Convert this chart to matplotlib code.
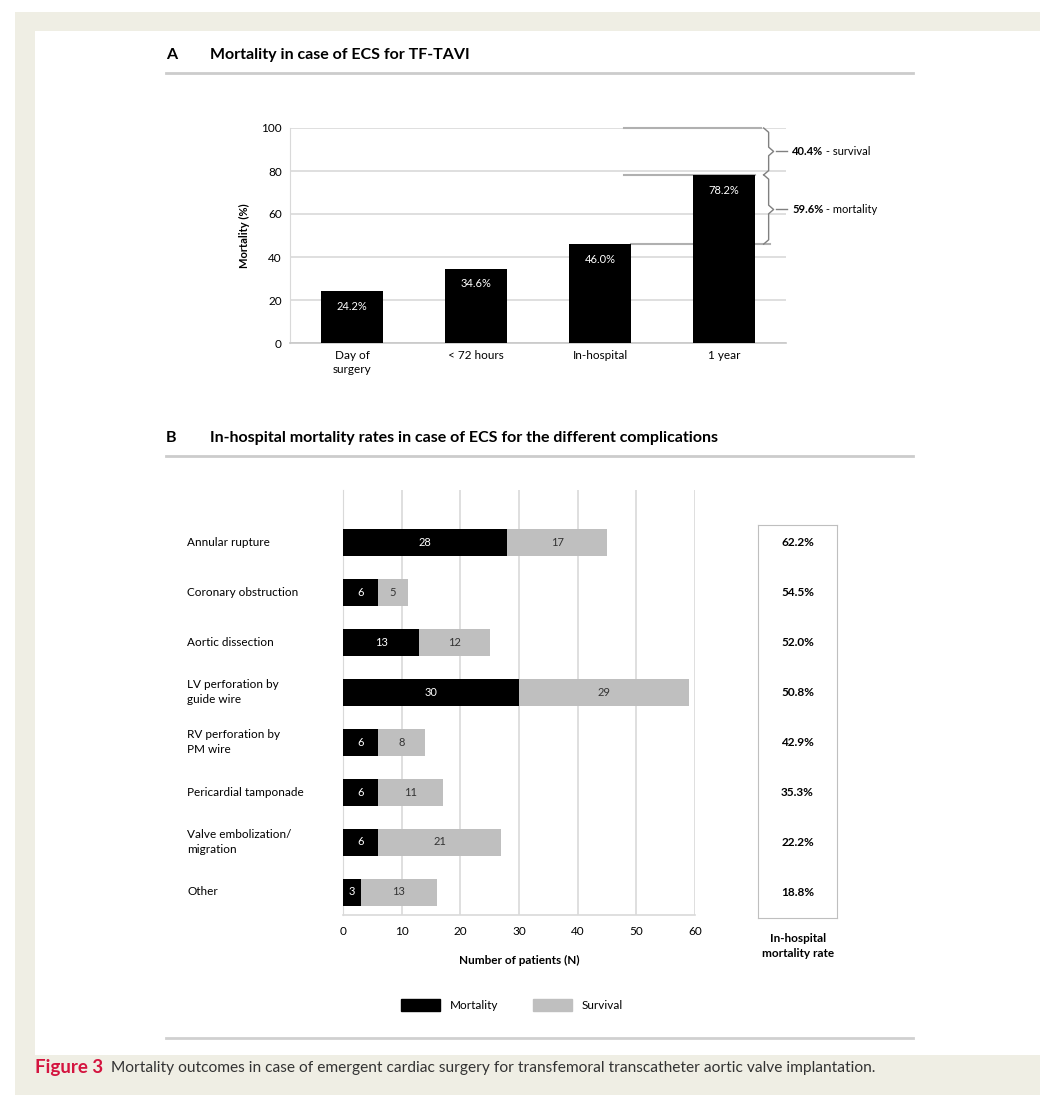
import matplotlib
matplotlib.use("Agg")
import matplotlib.pyplot as plt
from matplotlib.patches import Rectangle, Patch
from matplotlib.lines import Line2D
from matplotlib import transforms

plt.rcParams['font.family'] = ['Lato', 'DejaVu Sans']

# panel A data
periods = ["Day of\nsurgery", "< 72 hours", "In-hospital", "1 year"]
mortality_pct = [24.2, 34.6, 46.0, 78.2]
survival_note = "40.4%"
mortality_note = "59.6%"

# panel B data
complications = ["Annular rupture", "Coronary obstruction", "Aortic dissection",
                 "LV perforation by\nguide wire", "RV perforation by\nPM wire",
                 "Pericardial tamponade", "Valve embolization/\nmigration", "Other"]
deaths = [28, 6, 13, 30, 6, 6, 6, 3]
survivors = [17, 5, 12, 29, 8, 11, 21, 13]
rates = [62.2, 54.5, 52.0, 50.8, 42.9, 35.3, 22.2, 18.8]

W, H = 1040, 1095
BEIGE = '#efeee4'
GRID = '#d9d9d9'


def box(x0, y0, x1, y1):
    return [x0 / W, 1 - y1 / H, (x1 - x0) / W, (y1 - y0) / H]


def fx(x):
    return x / W


def fy(y):
    return 1 - y / H


fig = plt.figure(figsize=(W / 100, H / 100), dpi=100)
fig.patch.set_facecolor('white')
fig.add_artist(Rectangle((fx(15), 0), 1 - fx(15), fy(12), transform=fig.transFigure,
                         facecolor=BEIGE, edgecolor='none', zorder=-10))
fig.add_artist(Rectangle((fx(35), fy(1055)), 1 - fx(35), fy(31) - fy(1055),
                         transform=fig.transFigure, facecolor='white',
                         edgecolor='none', zorder=-9))


def title(y, letter, text):
    fig.text(fx(166), fy(y), letter, fontsize=11.5, fontweight='bold', va='center')
    fig.text(fx(210), fy(y), text, fontsize=11.5, fontweight='bold', va='center')
    fig.add_artist(Line2D([fx(166), fx(913)], [fy(y + 18), fy(y + 18)],
                          transform=fig.transFigure, color='#cccccc', lw=2))


def brace(ax, x, y0, y1, w=0.04, h=2.0):
    m = (y0 + y1) / 2
    xs = [x - w, x, x, x + w, x, x, x - w]
    ys = [y1, y1 - h, m + h, m, m - h, y0 + h, y0]
    ax.plot(xs, ys, color='#808080', lw=1, clip_on=False)
    ax.plot([x + w + 0.02, x + 0.15], [m, m], color='#808080', lw=1, clip_on=False)
    return m


# ---- panel A ----
title(55, "A", "Mortality in case of ECS for TF-TAVI")
axA = fig.add_axes(box(290, 128, 786, 343))
xa = range(len(periods))
axA.bar(xa, mortality_pct, 0.5, color='black', zorder=3)
for i, v in enumerate(mortality_pct):
    axA.annotate(f"{v:.1f}%", (i, v), xytext=(0, -11), textcoords='offset points',
                 ha='center', va='center', color='white', fontsize=8)
axA.set_xlim(-0.5, 3.5)
axA.set_ylim(0, 100)
axA.set_yticks(range(0, 101, 20))
axA.set_xticks(list(xa))
axA.set_xticklabels(periods, fontsize=8.5, linespacing=1.3)
axA.tick_params(axis='y', labelsize=8.5, length=0, pad=6)
axA.tick_params(axis='x', length=0, pad=5)
axA.yaxis.grid(True, color=GRID, lw=1.2)
axA.set_axisbelow(True)
for s in ['top', 'right']:
    axA.spines[s].set_visible(False)
axA.spines['left'].set_color(GRID)
axA.spines['bottom'].set_color('#c8c8c8')
axA.spines['bottom'].set_linewidth(1.2)
axA.set_ylabel("Mortality (%)", fontsize=8, fontweight='bold', labelpad=8)

# reference lines for the braces
axA.plot([2.19, 3.3], [100, 100], color='#b0b0b0', lw=1.5, clip_on=False, zorder=2)
axA.plot([2.19, 3.25], [mortality_pct[3], mortality_pct[3]], color='#b0b0b0', lw=1.5,
         clip_on=False, zorder=2)
axA.plot([2.25, 3.37], [mortality_pct[2], mortality_pct[2]], color='#b0b0b0', lw=1.5,
         clip_on=False, zorder=2)
m1 = brace(axA, 3.36, mortality_pct[3], 100)
m2 = brace(axA, 3.36, mortality_pct[2], mortality_pct[3])
for m, pct, word in [(m1, survival_note, " - survival"), (m2, mortality_note, " - mortality")]:
    t = axA.text(3.55, m, pct, fontsize=8, fontweight='bold', va='center')
    axA.annotate(word, xy=(1, 0.5), xycoords=t, xytext=(0, 0), textcoords='offset points',
                 va='center', ha='left', fontsize=8)

# ---- panel B ----
title(438, "B", "In-hospital mortality rates in case of ECS for the different complications")
axB = fig.add_axes(box(343, 490, 695, 915))
yb = range(len(complications))
axB.barh(yb, deaths, 0.54, color='black', zorder=3)
axB.barh(yb, survivors, 0.54, left=deaths, color='#bfbfbf', zorder=3)
for i, (d, s) in enumerate(zip(deaths, survivors)):
    axB.text(d / 2, i, str(d), ha='center', va='center', color='white', fontsize=8, zorder=4)
    axB.text(d + s / 2, i, str(s), ha='center', va='center', color='#333333', fontsize=8,
             zorder=4)
axB.set_xlim(0, 60)
axB.set_ylim(7.46, -1.04)
axB.set_xticks(range(0, 61, 10))
axB.set_yticks([])
axB.tick_params(axis='x', labelsize=8.5, length=0, pad=8)
axB.xaxis.grid(True, color=GRID, lw=1.2)
axB.set_axisbelow(True)
for s in ['top', 'right']:
    axB.spines[s].set_visible(False)
axB.spines['left'].set_color(GRID)
axB.spines['bottom'].set_color(GRID)
axB.spines['bottom'].set_linewidth(1.2)
lab_tr = transforms.blended_transform_factory(axB.transAxes, axB.transData)
for i, name in enumerate(complications):
    axB.text(-0.443, i, name, transform=lab_tr, ha='left', va='center', fontsize=8.5,
             linespacing=1.5)
axB.text(0.5, -0.106, "Number of patients (N)", transform=axB.transAxes, ha='center',
         va='center', fontsize=8.5, fontweight='bold')

axR = fig.add_axes(box(758, 525, 837, 918))
axR.set_xlim(0, 1)
axR.set_ylim(7.52, -0.34)
axR.set_xticks([])
axR.set_yticks([])
for s in axR.spines.values():
    s.set_color('#bfbfbf')
for i, r in enumerate(rates):
    axR.text(0.5, i, f"{r:.1f}%", ha='center', va='center', fontsize=8.5, fontweight='bold')
fig.text(fx(798), fy(946), "In-hospital\nmortality rate", ha='center', va='center',
         fontsize=8.5, fontweight='bold', linespacing=1.4)

fig.legend(handles=[Patch(color='black', label='Mortality'),
                    Patch(color='#bfbfbf', label='Survival')],
           loc='center', bbox_to_anchor=(fx(512), fy(1005)), ncol=2, frameon=False,
           fontsize=8.5, handlelength=3.3, handleheight=1.3, columnspacing=3.0)

fig.add_artist(Line2D([fx(166), fx(913)], [fy(1038), fy(1038)],
                      transform=fig.transFigure, color='#d0d0d0', lw=2))

# caption
cap = fig.text(fx(35), fy(1068), "Figure 3", color='#d4143f', fontsize=13.5,
               fontweight='bold', va='center')
plt.annotate("Mortality outcomes in case of emergent cardiac surgery for transfemoral "
             "transcatheter aortic valve implantation.", xy=(1, 0.5), xycoords=cap,
             xytext=(6, 0), textcoords='offset points', va='center', ha='left',
             fontsize=11.2, color='#333333', annotation_clip=False)

fig.savefig("out.png", dpi=100)
